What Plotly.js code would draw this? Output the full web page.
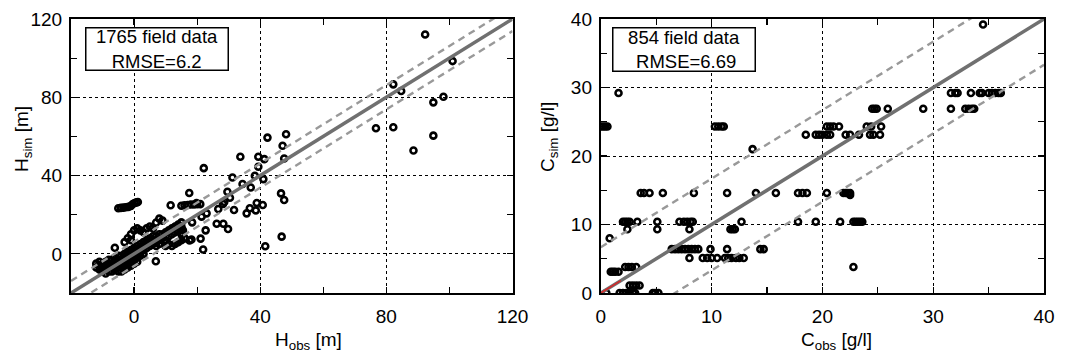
<!DOCTYPE html>
<html><head><meta charset="utf-8">
<script src="https://cdn.plot.ly/plotly-3.0.1.min.js"></script>
<style>body{margin:0;background:#fff}#chart{width:1066px;height:358px}</style>
</head><body><div id="chart"></div>
<script>
// ---- Left panel: water level H (m) ----
const hObs = [
 92.3,101,82.2,84.7,98.1,94.9,76.7,82.2,94.9,88.6,42.3,48.2,47.1,33.7,39.4,41.3,47.6,39.4,22.1,31.2,38.3,41.0,34.4,37.0,29.6,17.5,46.6,47.6,30.4,28.6,28.2,38.9,40.8,38.6,36.7,35.7,31.7,26.7,23.0,21.4,18.4,26.2,28.3,29.8,22.7,21.1,21.9,46.8,41.6,11.6,6.9,-6.1,18.2,17.6,19.8,
 -5,-4.2,-3.4,-2.6,-1.8,-1,-0.4,0.2,0.8,1.2,
 15,16,17,18,19,20,21,
 15,15,15.5,15.5,16,
 -12,-12,-11,-11,-11,-10,-10,-10,-9,-9,-9,-9,-8,-8,-8,-8,-7,-7,-7,-7,-6,-6,-6,-6,-5,-5,-5,-5,-5,-4,-4,-4,-4,-4,-3,-3,-3,-3,-3,-2,-2,-2,-2,-2,-1,-1,-1,-1,-1,0,0,0,0,0,1,1,1,1,1,2,2,2,2,3,3,3,3,4,4,4,5,5,5,6,6,6,7,7,7,8,8,8,9,9,10,10,10,11,11,12,12,13,13,14,14,15,15,15,15,16,14,13,12,11,10,
 -1,0,1,2,3,4,5,6,7,8,9,-2,-3,-1
];
const hSim = [
 112.1,98.5,86.6,83.2,80.3,77.4,64.2,64.7,60.4,52.8,59.4,61.1,55.2,49.6,49.6,48.4,48.7,44.5,43.8,39.0,39.9,38.2,35.7,33.9,31.7,31.1,30.9,27.5,28.7,26.5,25.5,26.0,25.0,22.2,23.3,20.7,22.4,22.9,20.7,19.0,16.1,15.4,15.4,12.7,12.0,7.8,2.2,8.8,3.9,24.8,-3.8,3.1,7.3,6.8,26.0,
 23.3,23.5,23.6,23.8,24,24.5,25.5,26,26.3,26.5,
 24.6,24.8,25,25.2,25.2,25.4,25.4,
 16,14,12,10,8,
 -5,-7,-4,-6,-8,-5,-7,-9,-4,-6,-8,-10,-3,-5,-7,-9,-3,-5,-7,-9,-2,-4,-6,-8,-1,-3,-5,-7,-9,-1,-3,-5,-7,-9,0,-2,-4,-6,-8,1,-1,-3,-5,-7,2,0,-2,-4,-6,3,1,-1,-3,-5,4,2,0,-2,-4,5,3,1,-1,6,4,2,0,7,5,3,8,6,4,9,7,5,9,6,4,10,7,5,10,8,11,9,6,12,9,13,10,14,11,15,12,16,13,10,7,8,6,5,4,5,4,
 10,12,13,12,11,13,14,13,16,18,17,8,6,7
];
const hRange = [-20, 120];
const hRmse = 6.2;

// ---- Right panel: concentration C (g/l) ----
const cObs = [
 34.5,
 1.6,31.6,32.0,32.2,33.4,34.2,34.4,35.0,35.3,35.6,35.9,36.1,
 24.5,24.7,24.9,25.9,29.1,31.6,32.9,33.2,33.5,33.7,
 0,0.2,0.4,0.6,10.3,10.6,10.9,11.1,20.4,20.7,21.0,21.5,24.0,24.4,25.3,
 18.5,19.4,19.7,20.0,20.4,20.7,22.1,22.5,23.3,24.3,24.6,25.2,
 13.7,
 3.6,3.9,4.4,5.6,8.4,11.4,14.0,15.8,17.8,18.2,18.6,20.4,21.9,22.1,22.3,22.5,
 22.5,
 2.0,2.2,2.4,2.6,3.3,5.1,7.1,7.5,7.8,8.1,8.3,12.7,17.8,19.4,21.6,22.8,23.0,23.2,23.4,23.6,
 2.4,5.1,8.0,11.7,11.9,12.1,
 0.8,
 6.4,6.7,7.0,7.3,7.6,7.9,8.2,8.5,8.8,9.9,11.4,14.4,14.7,
 8.0,9.2,9.6,10.0,10.5,11.2,11.5,11.8,12.2,12.5,12.9,
 2.2,2.5,2.8,3.2,22.8,
 0.9,1.1,1.3,1.6,
 2.6,2.9,3.2,3.5,
 0.5,1.7,2.0,2.3,2.6,2.9,3.1,4.7,4.9,5.2
];
const cSim = [
 39.2,
 29.2,29.2,29.2,29.2,29.2,29.2,29.2,29.2,29.2,29.2,29.2,29.2,
 26.9,26.9,26.9,26.9,26.9,26.9,26.9,26.9,26.9,26.9,
 24.3,24.3,24.3,24.3,24.3,24.3,24.3,24.3,24.3,24.3,24.3,24.3,24.3,24.3,24.3,
 23.1,23.1,23.1,23.1,23.1,23.1,23.1,23.1,23.1,23.1,23.1,23.1,
 21.0,
 14.6,14.6,14.6,14.6,14.6,14.6,14.6,14.6,14.6,14.6,14.6,14.6,14.6,14.6,14.6,14.6,
 14.3,
 10.4,10.4,10.4,10.4,10.4,10.4,10.4,10.4,10.4,10.4,10.4,10.4,10.4,10.4,10.4,10.4,10.4,10.4,10.4,10.4,
 9.3,9.3,9.3,9.3,9.3,9.3,
 8.0,
 6.4,6.4,6.4,6.4,6.4,6.4,6.4,6.4,6.4,6.4,6.4,6.4,6.4,
 5.1,5.1,5.1,5.1,5.1,5.1,5.1,5.1,5.1,5.1,5.1,
 3.8,3.8,3.8,3.8,3.8,
 3.1,3.1,3.1,3.1,
 1.1,1.1,1.1,1.1,
 0,0,0,0,0,0,0,0,0,0
];
const cRange = [0, 40];
const cRmse = 6.69;
const cRedLine = [0, 1.8];

const hLabel = ['1765 field data', 'RMSE=6.2'];
const cLabel = ['854 field data', ' RMSE=6.69'];
const hTitles = ['H<sub>obs</sub> [m]', 'H<sub>sim</sub> [m]'];
const cTitles = ['C<sub>obs</sub> [g/l]', 'C<sub>sim</sub> [g/l]'];

const FONT = "'Liberation Sans', Arial, Helvetica, sans-serif";
const mk = {symbol:'circle-open', size:6, color:'#000', line:{width:2.6, color:'#000'}};
const solid = {color:'#707070', width:3.5};
const dashed = {color:'#999999', width:2.4, dash:'7px,5px'};

function refLines(r, off, xa, ya){
  return [
    {x:r, y:[r[0]+off, r[1]+off], mode:'lines', line:dashed, xaxis:xa, yaxis:ya, hoverinfo:'skip'},
    {x:r, y:[r[0]-off, r[1]-off], mode:'lines', line:dashed, xaxis:xa, yaxis:ya, hoverinfo:'skip'},
    {x:r, y:r, mode:'lines', line:solid, xaxis:xa, yaxis:ya, hoverinfo:'skip'}
  ];
}

const data = [
  {x:hObs, y:hSim, mode:'markers', marker:mk, xaxis:'x', yaxis:'y', cliponaxis:true},
  ...refLines(hRange, hRmse, 'x', 'y'),
  {x:cObs, y:cSim, mode:'markers', marker:mk, xaxis:'x2', yaxis:'y2', cliponaxis:true},
  ...refLines(cRange, cRmse, 'x2', 'y2'),
  {x:cRedLine, y:cRedLine, mode:'lines', line:{color:'#d62728', width:1.5}, xaxis:'x2', yaxis:'y2'}
];

function ax(range, dtick, minor, domain, anchor, isX){
  return {
    range:range, domain:domain, anchor:anchor, dtick:dtick, tick0:0,
    showline:true, linecolor:'#000', linewidth:2, mirror:'ticks',
    ticks:'inside', ticklen:6, tickwidth:1.2, tickcolor:'#000',
    showgrid:true, gridcolor:'#000', gridwidth:1, griddash:'3px,3px',
    zeroline:false, ticklabelstandoff: isX ? 5 : 3,
    minor:{dtick:minor, tick0:0, ticks:'inside', ticklen:6, tickwidth:1.2, tickcolor:'#000', showgrid:false},
    tickfont:{family:FONT, size:19, color:'#000'}
  };
}

const tf = {family:FONT, size:19, color:'#000'};
const PH = 274, PT = 19;
function py(p){ return 1 - (p - PT)/PH; }

const layout = {
  width:1066, height:358, showlegend:false,
  paper_bgcolor:'#fff', plot_bgcolor:'#fff',
  margin:{l:0, r:0, t:PT, b:358-PT-PH},
  xaxis: ax(hRange, 40, 20, [71/1066, 512.5/1066], 'y', true),
  yaxis: ax(hRange, 40, 20, [0,1], 'x', false),
  xaxis2: ax(cRange, 10, 5, [600.8/1066, 1044/1066], 'y2', true),
  yaxis2: ax(cRange, 10, 5, [0,1], 'x2', false),
  annotations:[
    {xref:'paper', yref:'paper', x:156.5/1066, y:py(49), xanchor:'center', yanchor:'middle',
     text:hLabel.join('<br>'), showarrow:false, font:{family:FONT, size:18.5, color:'#000'},
     bordercolor:'#000', borderwidth:1.5, borderpad:1, bgcolor:'#fff', width:139, height:39},
    {xref:'paper', yref:'paper', x:684.3/1066, y:py(49.5), xanchor:'center', yanchor:'middle',
     text:cLabel.join('<br>'), showarrow:false, font:{family:FONT, size:18.5, color:'#000'},
     bordercolor:'#000', borderwidth:1.5, borderpad:1, bgcolor:'#fff', width:139, height:40},
    {xref:'paper', yref:'paper', x:308/1066, y:py(341), xanchor:'center', yanchor:'middle',
     text:hTitles[0], showarrow:false, font:tf},
    {xref:'paper', yref:'paper', x:23/1066, y:py(139), xanchor:'center', yanchor:'middle',
     text:hTitles[1], showarrow:false, font:tf, textangle:-90},
    {xref:'paper', yref:'paper', x:836/1066, y:py(341), xanchor:'center', yanchor:'middle',
     text:cTitles[0], showarrow:false, font:tf},
    {xref:'paper', yref:'paper', x:549/1066, y:py(137), xanchor:'center', yanchor:'middle',
     text:cTitles[1], showarrow:false, font:tf, textangle:-90}
  ]
};

Plotly.newPlot('chart', data, layout, {staticPlot:true, displayModeBar:false});
</script>
</body></html>
